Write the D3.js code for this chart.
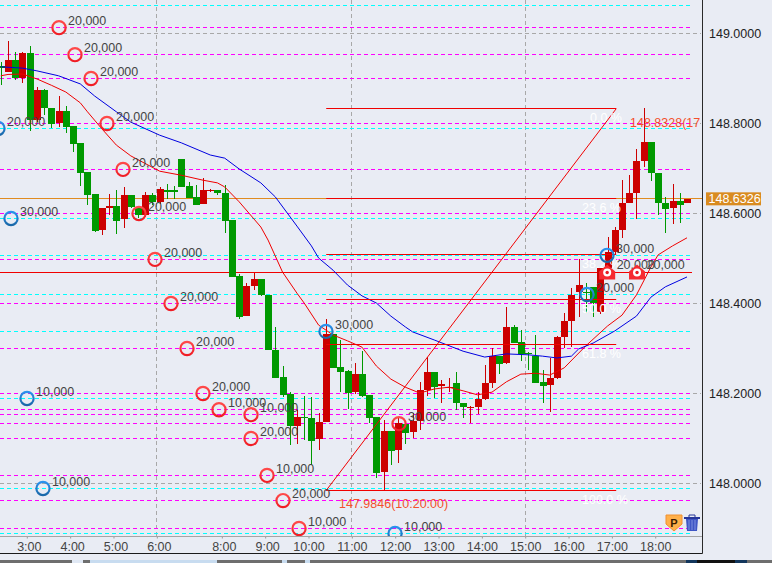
<!DOCTYPE html>
<html>
<head>
<meta charset="utf-8">
<script src="https://d3js.org/d3.v7.min.js"></script>
<style>
html,body{margin:0;padding:0;background:#e9ecf4;overflow:hidden}
svg{display:block}
text{font-family:"Liberation Sans",Arial,sans-serif}
</style>
</head>
<body>
<div id="chart"></div>
<script>
// ---------- data ----------
const opens = [148.928,148.914,148.941,148.901,148.957,148.808,148.874,148.834,148.801,148.828,148.794,148.757,148.692,148.643,148.563,148.612,148.617,148.588,148.641,148.614,148.597,148.641,148.626,148.652,148.652,148.721,148.661,148.637,148.621,148.650,148.652,148.645,148.586,148.461,148.372,148.439,148.454,148.419,148.297,148.237,148.199,148.128,148.148,148.146,148.099,148.137,148.332,148.259,148.250,148.203,148.243,148.197,148.148,148.026,148.117,148.074,148.132,148.114,148.139,148.208,148.248,148.217,148.212,148.223,148.179,148.169,148.170,148.188,148.223,148.283,148.268,148.348,148.314,148.289,148.283,148.226,148.219,148.234,148.326,148.361,148.426,148.426,148.437,148.381,148.479,148.514,148.563,148.623,148.645,148.717,148.759,148.690,148.623,148.612,148.628,148.623];
const highs = [148.937,148.983,148.959,148.959,148.972,148.881,148.877,148.834,148.861,148.839,148.794,148.757,148.692,148.643,148.612,148.643,148.652,148.659,148.641,148.614,148.648,148.645,148.659,148.666,148.661,148.721,148.670,148.663,148.679,148.654,148.652,148.663,148.586,148.466,148.445,148.468,148.454,148.419,148.348,148.261,148.203,148.163,148.194,148.192,148.157,148.365,148.332,148.319,148.252,148.268,148.294,148.197,148.148,148.141,148.117,148.148,148.132,148.157,148.226,148.281,148.248,148.230,148.234,148.248,148.179,148.172,148.203,148.263,148.301,148.283,148.392,148.352,148.341,148.292,148.330,148.252,148.279,148.328,148.379,148.434,148.499,148.445,148.437,148.479,148.548,148.570,148.674,148.685,148.743,148.834,148.759,148.690,148.637,148.666,148.645,148.632];
const lows = [148.885,148.914,148.897,148.890,148.783,148.803,148.819,148.790,148.792,148.779,148.737,148.661,148.619,148.559,148.552,148.597,148.554,148.568,148.612,148.590,148.592,148.619,148.621,148.632,148.632,148.659,148.634,148.619,148.621,148.648,148.641,148.557,148.459,148.365,148.372,148.430,148.417,148.297,148.234,148.192,148.086,148.088,148.097,148.041,148.074,148.137,148.257,148.203,148.166,148.199,148.192,148.134,148.012,147.985,148.041,148.045,148.088,148.101,148.119,148.194,148.190,148.179,148.203,148.163,148.146,148.134,148.154,148.186,148.212,148.243,148.266,148.312,148.272,148.252,148.223,148.179,148.159,148.232,148.301,148.303,148.370,148.379,148.370,148.377,148.479,148.508,148.546,148.623,148.588,148.703,148.672,148.597,148.557,148.577,148.579,148.623];
const closes = [148.923,148.941,148.901,148.957,148.808,148.874,148.834,148.799,148.828,148.792,148.754,148.690,148.641,148.561,148.612,148.617,148.583,148.641,148.614,148.597,148.641,148.626,148.654,148.648,148.648,148.659,148.634,148.619,148.652,148.652,148.645,148.583,148.459,148.370,148.439,148.454,148.419,148.297,148.234,148.197,148.128,148.148,148.146,148.094,148.137,148.332,148.257,148.248,148.201,148.243,148.194,148.146,148.023,148.117,148.072,148.134,148.112,148.139,148.208,148.248,148.214,148.221,148.214,148.179,148.170,148.170,148.188,148.223,148.283,148.266,148.348,148.312,148.288,148.287,148.223,148.217,148.234,148.326,148.361,148.419,148.441,148.424,148.401,148.479,148.514,148.563,148.623,148.645,148.717,148.759,148.690,148.623,148.610,148.628,148.619,148.632];

const blueMaBars = [0,3,5,8,11,13,16,18,22,25,29,31,33,36,38,41,43,44,46,48,50,52,54,56,57,60,64,67,70,73,75,77,79,80,82,85,88,90,92,95];
const blueMaValues = [148.926,148.923,148.917,148.906,148.888,148.861,148.826,148.803,148.774,148.757,148.730,148.723,148.699,148.668,148.637,148.572,148.528,148.501,148.474,148.441,148.417,148.401,148.372,148.348,148.337,148.319,148.294,148.281,148.288,148.286,148.283,148.279,148.283,148.299,148.312,148.339,148.372,148.414,148.437,148.459];
const redMaBars = [0,1,3,5,7,9,11,12,14,16,18,22,25,28,30,31,33,36,37,39,41,42,44,46,48,50,52,54,56,58,60,62,64,66,68,70,72,74,76,78,81,84,86,88,90,91,93,95];
const redMaValues = [148.906,148.909,148.910,148.899,148.885,148.870,148.846,148.826,148.788,148.752,148.728,148.694,148.685,148.674,148.668,148.659,148.626,148.570,148.541,148.470,148.423,148.401,148.352,148.330,148.317,148.303,148.261,148.232,148.214,148.201,148.210,148.214,148.206,148.197,148.203,148.226,148.243,148.245,148.241,148.257,148.306,148.350,148.374,148.419,148.481,148.508,148.528,148.546];

const priceTicks = [149,148.8,148.6,148.4,148.2,148];
const timeLabels = ["3:00","4:00","5:00","6:00","8:00","9:00","10:00","11:00","12:00","13:00","14:00","15:00","16:00","17:00","18:00"];
const timeBars = [3.6,9.6,15.6,21.6,30.6,36.6,42.6,48.6,54.6,60.6,66.6,72.6,78.6,84.6,90.6];
const gridTimeBars = [21.6,48.6,72.6];

const magentaLevels = [149.013,148.953,148.900,148.800,148.698,148.600,148.498,148.400,148.300,148.200,148.164,148.153,148.133,148.100,148.018,147.962,147.900];
const cyanLevels = [149.062,148.789,148.589,148.507,148.420,148.338,148.189,147.989,147.889];

const sellBars = [8.06,10.27,12.49,14.70,16.92,19.13,21.35,23.56,25.78,27.99,30.21,34.64,34.64,36.86,39.07,41.29,55.13];
const sellPrices = [149.013,148.953,148.900,148.800,148.698,148.600,148.498,148.400,148.300,148.200,148.164,148.153,148.100,148.018,147.962,147.900,148.133];
const sellSizes = ["20,000","20,000","20,000","20,000","20,000","20,000","20,000","20,000","20,000","20,000","10,000","10,000","20,000","10,000","20,000","10,000","30,000"];
const buyBars = [-0.39,1.41,3.63,5.84,45.02,54.58,81.16,83.93];
const buyPrices = [148.789,148.589,148.189,147.989,148.338,147.889,148.420,148.507];
const buySizes = ["20,000","30,000","10,000","10,000","30,000","10,000","20,000","30,000"];
const pinBars = [83.95,88.08];
const pinPrice = 148.469;
const pinSizes = ["20,000","20,000"];

const fibHigh = 148.8328, fibLow = 147.9846;
const fibStartBar = 45.05, fibEndBar = 85.2;
const fibRatios = [0,0.236,0.382,0.5,0.618,1];
const fibTexts = ["0.0 %","23.6 %","38.2 %","50.0 %","61.8 %","100.0 %"];
const lastPrice = 148.6326;
const fibHighText = "148.8328(17";
const fibLowText = "147.9846(10:20:00)";

// ---------- layout ----------
const W = 772, H = 563, plotR = 702.5, plotB = 536.5, lineEnd = 692;
const FS = "12.5px";
const x = d3.scaleLinear().domain([0,95]).range([0.8,687]);
const y = d3.scaleLinear().domain([149,148]).range([33.5,483.5]);
const px = v => Math.round(x(v));

const svg = d3.select("#chart").append("svg").attr("width",W).attr("height",H);
svg.append("rect").attr("width",W).attr("height",H).attr("fill","#e9ecf4");
const defs = svg.append("defs");
defs.append("clipPath").attr("id","plot").append("rect").attr("x",0).attr("y",0).attr("width",plotR).attr("height",plotB);
const g1 = defs.append("linearGradient").attr("id","blueRing").attr("x1",0).attr("x2",0).attr("y1",0).attr("y2",1);
g1.append("stop").attr("offset","0").attr("stop-color","#2b92ee");
g1.append("stop").attr("offset","1").attr("stop-color","#1a68a8");
const g2 = defs.append("linearGradient").attr("id","redRing").attr("x1",0).attr("x2",0).attr("y1",0).attr("y2",1);
g2.append("stop").attr("offset","0").attr("stop-color","#ff4a4a");
g2.append("stop").attr("offset","1").attr("stop-color","#f01c24");

const plot = svg.append("g").attr("clip-path","url(#plot)");
const crisp = v => Math.round(v - 0.5) + 0.5;

// grid
plot.selectAll(".hgrid").data(priceTicks).join("line").attr("x1",0).attr("x2",701)
  .attr("y1",d=>y(d)).attr("y2",d=>y(d)).attr("stroke","#a8a8a8").attr("stroke-dasharray","4,3");
plot.selectAll(".vgrid").data(gridTimeBars).join("line")
  .attr("x1",d=>crisp(x(d))).attr("x2",d=>crisp(x(d))).attr("y1",0).attr("y2",plotB)
  .attr("stroke","#a8a8a8").attr("stroke-dasharray","4,3");

// order levels
plot.selectAll(".cy").data(cyanLevels).join("line").attr("x1",0).attr("x2",lineEnd)
  .attr("y1",d=>crisp(y(d))).attr("y2",d=>crisp(y(d))).attr("stroke","#00ffff").attr("stroke-dasharray","4,3");
plot.selectAll(".mg").data(magentaLevels).join("line").attr("x1",0).attr("x2",lineEnd)
  .attr("y1",d=>crisp(y(d))).attr("y2",d=>crisp(y(d))).attr("stroke","#ff00ff").attr("stroke-dasharray","4,3");

// last price line
plot.append("line").attr("x1",0).attr("x2",plotR).attr("y1",crisp(y(lastPrice))).attr("y2",crisp(y(lastPrice))).attr("stroke","#e08b20");
// entry line
plot.append("line").attr("x1",0).attr("x2",lineEnd).attr("y1",crisp(y(pinPrice))).attr("y2",crisp(y(pinPrice))).attr("stroke","#f00000");

// candles
const UP = "#cc0000", DOWN = "#009900";
const bars = d3.range(opens.length);
const colorOf = i => closes[i] >= opens[i] ? UP : DOWN;
plot.selectAll(".wick").data(bars).join("line")
  .attr("x1",i=>px(i)+0.5).attr("x2",i=>px(i)+0.5)
  .attr("y1",i=>Math.round(y(highs[i]))).attr("y2",i=>Math.round(y(lows[i])))
  .attr("stroke",colorOf);
plot.selectAll(".body").data(bars).join("rect")
  .attr("x",i=>px(i)-3).attr("width",7)
  .attr("y",i=>Math.round(y(Math.max(opens[i],closes[i]))))
  .attr("height",i=>Math.max(1,Math.round(y(Math.min(opens[i],closes[i])))-Math.round(y(Math.max(opens[i],closes[i])))))
  .attr("fill",colorOf).attr("shape-rendering","crispEdges");

// moving averages
const maLine = (b,v) => d3.line().x((d,i)=>x(b[i])).y((d,i)=>y(v[i]))(b);
plot.append("path").attr("d",maLine(redMaBars,redMaValues)).attr("fill","none").attr("stroke","#f00000").attr("stroke-width",1);
plot.append("path").attr("d",maLine(blueMaBars,blueMaValues)).attr("fill","none").attr("stroke","#0000e0").attr("stroke-width",1);

// fibonacci
const fibPrice = r => fibHigh - (fibHigh-fibLow)*r;
plot.selectAll(".fib").data(fibRatios).join("line")
  .attr("x1",x(fibStartBar)).attr("x2",x(fibEndBar))
  .attr("y1",d=>crisp(y(fibPrice(d)))).attr("y2",d=>crisp(y(fibPrice(d))))
  .attr("stroke","#f00000");
plot.append("line").attr("x1",x(fibStartBar)).attr("x2",x(fibEndBar))
  .attr("y1",y(fibLow)).attr("y2",y(fibHigh)).attr("stroke","#f00000");
plot.selectAll(".fibT").data(fibRatios).join("text")
  .attr("x",(d,i)=>i===0?590:582).attr("y",d=>y(fibPrice(d))+13.5)
  .attr("fill","#ffffff").attr("font-size",FS)
  .text((d,i)=>fibTexts[i]);
plot.append("text").attr("x",630).attr("y",y(fibHigh)+18).attr("fill","#f4502c").attr("font-size",FS).text(fibHighText);
plot.append("text").attr("x",339).attr("y",y(fibLow)+18).attr("fill","#f4502c").attr("font-size",FS).text(fibLowText);

// signal rings and sizes
const sizeText = (sel,xf,yf,tf) => sel.attr("x",xf).attr("y",yf).attr("fill","#444").attr("font-size",FS).text(tf);
sizeText(plot.selectAll(".st").data(sellBars).join("text"),(d,i)=>x(d)+9,(d,i)=>y(sellPrices[i])-2.5,(d,i)=>sellSizes[i]);
sizeText(plot.selectAll(".bt").data(buyBars).join("text"),(d,i)=>x(d)+9,(d,i)=>y(buyPrices[i])-2.5,(d,i)=>buySizes[i]);
sizeText(plot.selectAll(".pt").data(pinBars).join("text"),(d,i)=>x(d)+9.5,y(pinPrice)-3,(d,i)=>pinSizes[i]);
plot.selectAll(".sr").data(sellBars).join("circle").attr("cx",d=>x(d)).attr("cy",(d,i)=>y(sellPrices[i])).attr("r",6.6)
  .attr("fill","none").attr("stroke","url(#redRing)").attr("stroke-width",2.2);
plot.selectAll(".br").data(buyBars).join("circle").attr("cx",d=>x(d)).attr("cy",(d,i)=>y(buyPrices[i])).attr("r",6.6)
  .attr("fill","none").attr("stroke","url(#blueRing)").attr("stroke-width",2.2);

// pins
const pin = plot.selectAll(".pin").data(pinBars).join("g")
  .attr("transform",d=>`translate(${x(d)},${y(pinPrice)})`);
pin.append("path").attr("d","M0,-8 L8,-1 L8,7 L-8,7 L-8,-1 Z").attr("fill","#f62a30");
pin.append("circle").attr("r",4).attr("fill","#fff");
pin.append("circle").attr("r",1.7).attr("fill","#e81c22");

// axes
const yAxis = d3.axisRight(y).tickValues(priceTicks).tickFormat(d3.format(".4f")).tickSize(0).tickPadding(6.5);
const yg = svg.append("g").attr("transform",`translate(${plotR},0)`).call(yAxis);
yg.select(".domain").remove();
yg.selectAll("text").attr("font-size",FS).attr("font-family","Liberation Sans").attr("fill","#222");

const xAxis = d3.axisBottom(x).tickValues(timeBars).tickFormat((d,i)=>timeLabels[i]).tickSize(2).tickPadding(3.5);
const xg = svg.append("g").attr("transform",`translate(0,${plotB})`).call(xAxis);
xg.select(".domain").remove();
xg.selectAll("line").attr("stroke","#999");
xg.selectAll("text").attr("font-size",FS).attr("font-family","Liberation Sans").attr("fill","#444")
  .attr("dx",(d,i)=>timeLabels[i].length===4?2:0);

svg.append("line").attr("x1",0).attr("x2",plotR).attr("y1",plotB).attr("y2",plotB).attr("stroke","#a4a4a4");
svg.append("line").attr("x1",plotR).attr("x2",plotR).attr("y1",0).attr("y2",553.5).attr("stroke","#2a2a2a");
svg.append("line").attr("x1",0).attr("x2",plotR).attr("y1",553.5).attr("y2",553.5).attr("stroke","#1a1a1a");

// last price tag
const tagY = y(lastPrice);
svg.append("rect").attr("x",706).attr("y",tagY-6.5).attr("width",55).attr("height",13).attr("fill","#d98b20");
svg.append("text").attr("x",708.5).attr("y",tagY+4.5).attr("fill","#fff").attr("font-size",FS).text(lastPrice.toFixed(4));

// P icon
const pi = svg.append("g").attr("transform","translate(674,523)");
pi.append("path").attr("d","M-8,-8 L8,-8 L8,1 L0,8 L-8,1 Z").attr("fill","#ffb04a").attr("stroke","#f09030");
pi.append("text").attr("text-anchor","middle").attr("y",3.5).attr("font-size","11px").attr("font-weight","bold").attr("fill","#3a1c00").text("P");

// trash icon
const tr = svg.append("g").attr("transform","translate(692,523)");
tr.append("path").attr("d","M-6,-4 L6,-4 L5,8 L-5,8 Z").attr("fill","#3f56c4");
tr.append("rect").attr("x",-8).attr("y",-6).attr("width",16).attr("height",2).attr("fill","#26369a");
tr.append("path").attr("d","M-3,-6 L-3,-8 L3,-8 L3,-6").attr("fill","none").attr("stroke","#26369a");
[-3,0,3].forEach(v=>tr.append("line").attr("x1",v).attr("x2",v).attr("y1",-3).attr("y2",7).attr("stroke","#7f90e0"));

// window strip at the bottom
svg.append("rect").attr("x",0).attr("y",560).attr("width",W).attr("height",3).attr("fill","#6e6e6e");
[[72,11,"#e0e8f4"],[90,127,"#c8dcf0"],[282,5,"#c8dcf0"],[305,5,"#c8dcf0"],[686,11,"#12365c"],[697,38,"#111"],[735,12,"#12365c"]]
  .forEach(s=>svg.append("rect").attr("x",s[0]).attr("y",560).attr("width",s[1]).attr("height",3).attr("fill",s[2]));
</script>
</body>
</html>
